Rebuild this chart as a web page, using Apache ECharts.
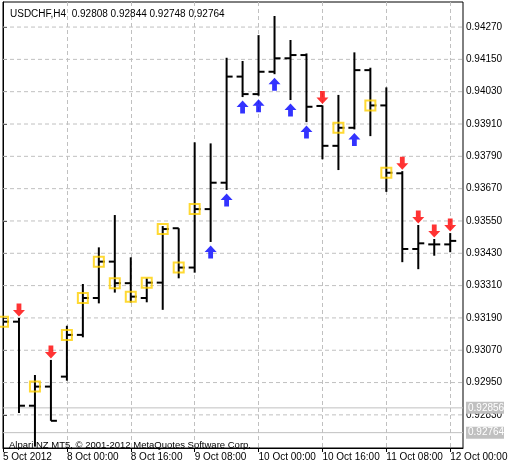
<!DOCTYPE html>
<html><head><meta charset="utf-8">
<script src="https://cdn.jsdelivr.net/npm/echarts@6/dist/echarts.min.js"></script>
<style>html,body{margin:0;padding:0;background:#fff}#c{width:516px;height:468px}</style>
</head><body><div id="c"></div>
<script>
const timeLabels = {0:'5 Oct 2012',4:'8 Oct 00:00',8:'8 Oct 16:00',12:'9 Oct 08:00',16:'10 Oct 00:00',20:'10 Oct 16:00',24:'11 Oct 08:00',28:'12 Oct 00:00'};
const opens  = [0.93190,0.93176,0.92864,0.92935,0.92972,0.93127,0.93264,0.93399,0.93319,0.93264,0.93321,0.93523,0.93377,0.93594,0.93692,0.94086,0.94021,0.94104,0.94154,0.94166,0.93977,0.93829,0.93896,0.94110,0.93979,0.93727,0.93446,0.93463,0.93463];
const highs  = [0.93212,0.93190,0.92978,0.93034,0.93161,0.93316,0.93452,0.93572,0.93415,0.93337,0.93531,0.93523,0.93842,0.93838,0.94156,0.94144,0.94240,0.94311,0.94222,0.94172,0.93979,0.94018,0.94176,0.94119,0.94046,0.93735,0.93535,0.93483,0.93505];
const lows   = [0.93145,0.92837,0.92712,0.92808,0.92957,0.93118,0.93244,0.93284,0.93247,0.93248,0.93220,0.93337,0.93358,0.93472,0.93665,0.94010,0.94015,0.94095,0.93999,0.93917,0.93779,0.93739,0.93890,0.93865,0.93658,0.93397,0.93371,0.93421,0.93434];
const closes = [0.93176,0.92864,0.92935,0.92808,0.93127,0.93264,0.93399,0.93319,0.93269,0.93321,0.93520,0.93377,0.93594,0.93692,0.94086,0.94021,0.94104,0.94154,0.94166,0.93974,0.93829,0.93896,0.94110,0.93979,0.93729,0.93446,0.93467,0.93463,0.93476];
const squareBars = [0,2,4,5,6,7,8,9,10,11,12,21,23,24];
const upArrowBars = [13,14,15,16,17,18,19,22];
const downArrowBars = [1,3,20,25,26,27,28];
const priceTicks = [0.92830,0.92950,0.93070,0.93190,0.93310,0.93430,0.93550,0.93670,0.93790,0.93910,0.94030,0.94150,0.94270];
const priceLines = [0.92856,0.92764];
const header = 'USDCHF,H4  0.92808 0.92844 0.92748 0.92764';
const footer = 'Alpari NZ MT5, © 2001-2012 MetaQuotes Software Corp.';

const FONT = 'Liberation Sans';
const ohlc = opens.map((o,i)=>[i,o,highs[i],lows[i],closes[i]]);
const arrowUp = 'path://M5,0 L10,6 L7,6 L7,12 L3,12 L3,6 L0,6 Z';
const arrowDown = 'path://M3,0 L7,0 L7,6 L10,6 L5,12 L0,6 L3,6 Z';

function hLine(dash, color, withLabel){
  return (params,api)=>{
    const cs=params.coordSys; const y=api.coord([0,api.value(0)])[1];
    const ch=[{type:'line',shape:{x1:cs.x,y1:y,x2:cs.x+cs.width,y2:y},style:{stroke:color,lineWidth:1,lineDash:dash}}];
    if(withLabel){
      ch.push({type:'rect',shape:{x:cs.x+cs.width+3,y:y-6,width:38,height:12},style:{fill:'#c0c0c0'}});
      ch.push({type:'text',style:{x:cs.x+cs.width+5,y:y,text:api.value(0).toFixed(5),fill:'#fff',font:'10px '+FONT,verticalAlign:'middle'}});
    }
    return {type:'group',children:ch};
  };
}

const chart = echarts.init(document.getElementById('c'));
chart.setOption({
  animation:false,
  textStyle:{fontFamily:FONT},
  grid:{left:2,right:53,top:2,bottom:20,show:true,borderColor:'#000',borderWidth:1},
  title:[{text:header,left:5,top:4,textStyle:{fontSize:10,fontWeight:'normal',color:'#000',fontFamily:FONT}},
         {text:footer,left:4,top:435,textStyle:{fontSize:9.5,fontWeight:'normal',color:'#000',fontFamily:FONT}}],
  xAxis:{type:'value',min:0,max:28.8,interval:2,
    axisLine:{lineStyle:{color:'#000'}},axisTick:{show:true,length:4,lineStyle:{color:'#000'},customValues:[0,4,8,12,16,20,24,28]},
    axisLabel:{fontSize:10,color:'#000',margin:4,align:'left',hideOverlap:false,customValues:[0,4,8,12,16,20,24,28],formatter:v=>timeLabels[v]||''},
    splitLine:{show:true,lineStyle:{color:'#c0c0c0',type:[4,3]}}},
  yAxis:{type:'value',position:'right',min:0.92707,max:0.94363,scale:true,
    axisLine:{show:true,lineStyle:{color:'#000'}},
    axisTick:{show:true,length:4,lineStyle:{color:'#000'},customValues:priceTicks},
    axisLabel:{fontSize:10,color:'#000',margin:3,customValues:priceTicks,formatter:v=>v.toFixed(5)},
    splitLine:{show:false}},
  series:[
    {type:'custom',data:priceTicks.map(p=>[p]),encode:{y:0},renderItem:hLine([4,3],'#c0c0c0',false),z:1,silent:true},
    {type:'custom',data:priceLines.map(p=>[p]),encode:{y:0},clip:false,renderItem:hLine(null,'#c0c0c0',true),z:2,silent:true},
    {type:'custom',data:ohlc,clip:true,z:5,
      renderItem:(params,api)=>{
        const x=api.value(0);
        const o=api.coord([x,api.value(1)]),h=api.coord([x,api.value(2)]),l=api.coord([x,api.value(3)]),c=api.coord([x,api.value(4)]);
        const st={stroke:'#000',lineWidth:2};
        return {type:'group',children:[
          {type:'line',shape:{x1:h[0],y1:h[1],x2:l[0],y2:l[1]},style:st},
          {type:'line',shape:{x1:o[0]-6,y1:o[1],x2:o[0],y2:o[1]},style:st},
          {type:'line',shape:{x1:c[0],y1:c[1],x2:c[0]+6,y2:c[1]},style:st}]};
      },encode:{x:0,y:[1,2,3,4]}},
    {type:'scatter',z:6,symbol:'rect',symbolSize:10,itemStyle:{color:'rgba(0,0,0,0)',borderColor:'#FFD000',borderWidth:2},
      data:squareBars.map(i=>[i,closes[i]])},
    {type:'scatter',z:6,symbol:arrowUp,symbolSize:[12,13],symbolOffset:[0,10],itemStyle:{color:'#0000FF'},
      data:upArrowBars.map(i=>[i,lows[i]])},
    {type:'scatter',z:6,symbol:arrowDown,symbolSize:[12,13],symbolOffset:[0,-8],itemStyle:{color:'#FF0000'},
      data:downArrowBars.map(i=>[i,highs[i]])}
  ]
});
</script></body></html>
